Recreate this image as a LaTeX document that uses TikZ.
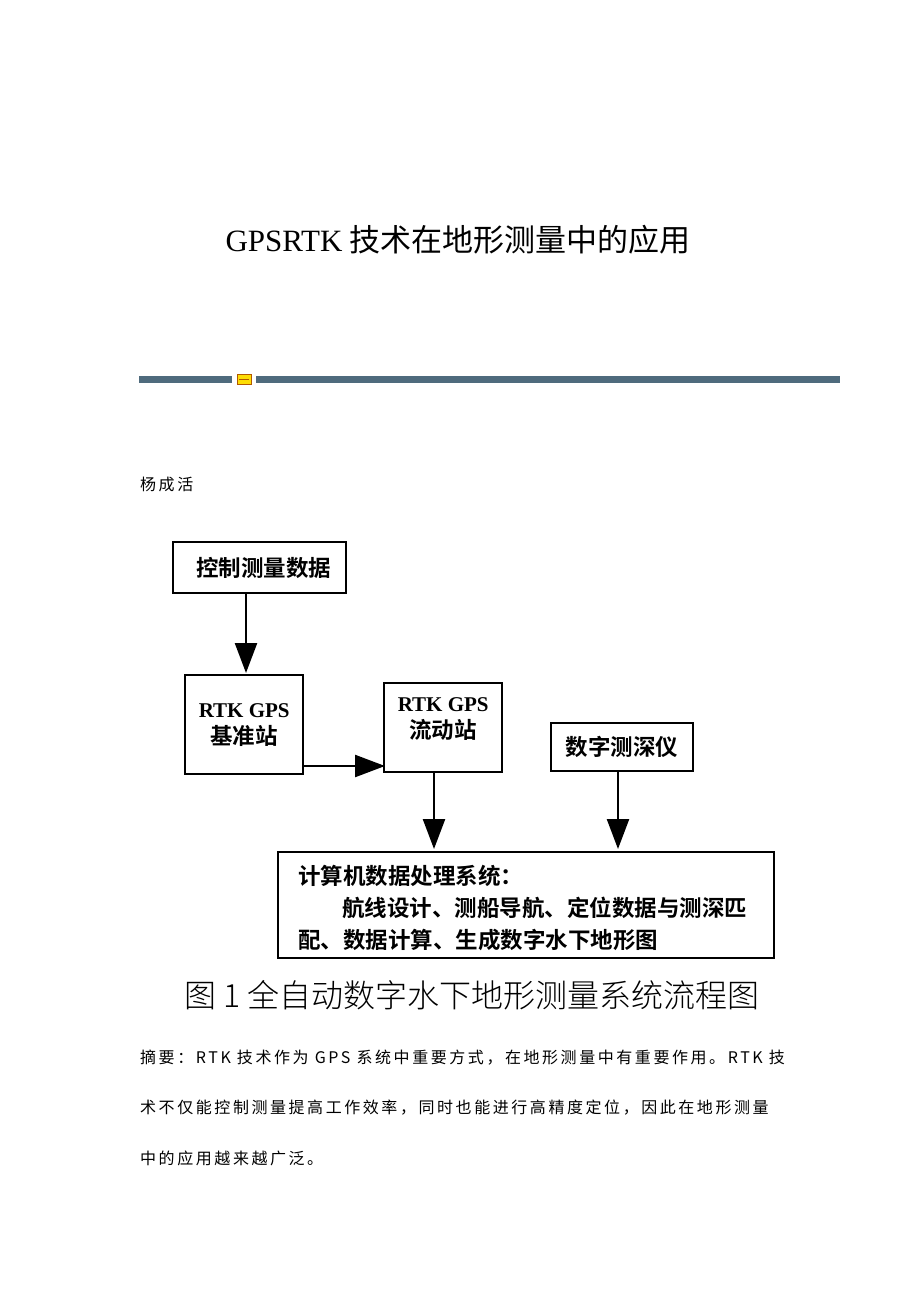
\documentclass[tikz,border=0pt]{standalone}
\usepackage{fontspec}
\newfontfamily\lat{Liberation Serif}
\newfontfamily\cjk{Noto Sans CJK SC}
\newfontfamily\cjkb{Noto Sans CJK SC Bold}
\newfontfamily\cjkl{Noto Sans CJK SC Light}
\newfontfamily\cjksp[LetterSpace=16]{Noto Sans CJK SC}
\usetikzlibrary{arrows.meta}
\definecolor{barc}{HTML}{4F6B7D}
\begin{document}
\begin{tikzpicture}[x=1pt,y=-1pt,
  box/.style={draw,line width=2.4pt,inner sep=0pt,anchor=north west},
  arr/.style={line width=2.4pt,-{Triangle[width=22pt,length=30pt]}},
  bt/.style={font=\cjkb\fontsize{22.5}{27}\selectfont},
  body/.style={font=\cjksp\fontsize{16}{18}\selectfont,anchor=west,inner sep=0pt}]
\useasboundingbox[fill=white] (0,0) rectangle (920,1302);
\node[font=\cjk\fontsize{31}{36}\selectfont] (title) at (458,240) {{\lat GPSRTK} 技术在地形测量中的应用};
\fill[barc] (139,376) rectangle (232,383);
\fill[barc] (256,376) rectangle (840,383);
\fill[yellow!80!orange,draw=orange!70!black,line width=0.5pt] (237,374) rectangle (251,384);
\draw[orange!70!black,line width=0.5pt] (239,379) -- (249,379);
\node[body] (author) at (140,484) {杨成活};
\node[box,minimum width=173pt,minimum height=51pt] (A) at (172,541) {};
\node[bt] at (A.center) {\hspace*{8pt}控制测量数据};
\node[box,minimum width=118pt,minimum height=99pt] (B) at (184,674) {};
\node[bt,align=center] at (B.center) {{\lat\bfseries\fontsize{21}{27}\selectfont RTK GPS}\\基准站};
\node[box,minimum width=118pt,minimum height=89pt] (C) at (383,682) {};
\node[bt,align=center,anchor=north] at ([yshift=-12pt]C.north) {{\lat\bfseries\fontsize{21}{27}\selectfont RTK GPS}\\流动站};
\node[box,minimum width=142pt,minimum height=48pt] (D) at (550,722) {};
\node[bt] at (D.center) {数字测深仪};
\node[box,minimum width=496pt,minimum height=106pt] (E) at (277,851) {};
\node[bt,anchor=west,inner sep=0pt] (e1) at (298,876) {计算机数据处理系统：};
\node[bt,anchor=west,inner sep=0pt] (e2) at (342,908) {航线设计、测船导航、定位数据与测深匹};
\node[bt,anchor=west,inner sep=0pt] (e3) at (298,940) {配、数据计算、生成数字水下地形图};
\draw[arr] (A.south -| 246,0) -- (246,673);
\draw[arr] (302,766) -- (385,766);
\draw[arr] (434,771) -- (434,849);
\draw[arr] (618,770) -- (618,849);
\node[font=\cjkl\fontsize{32}{36}\selectfont] (cap) at (472,995) {图 1 全自动数字水下地形测量系统流程图};
\node[body] (p1) at (140,1058) {摘要：RTK 技术作为 GPS 系统中重要方式，在地形测量中有重要作用。RTK 技};
\node[body] (p2) at (140,1108) {术不仅能控制测量提高工作效率，同时也能进行高精度定位，因此在地形测量};
\node[body] (p3) at (140,1158) {中的应用越来越广泛。};
\end{tikzpicture}
\end{document}
